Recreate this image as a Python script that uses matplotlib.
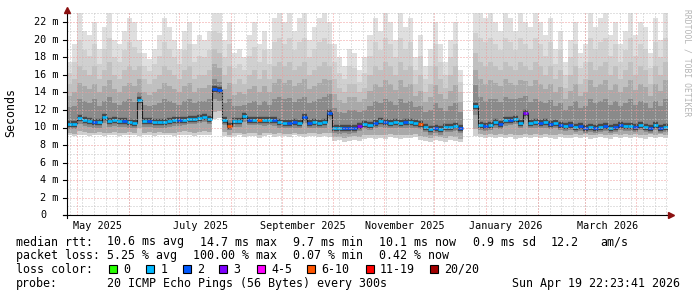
import numpy as np
import matplotlib
matplotlib.use("Agg")
import matplotlib.pyplot as plt
import matplotlib.dates as mdates
import matplotlib.transforms as mtransforms
from matplotlib.lines import Line2D
from matplotlib.patches import Rectangle
from datetime import datetime, timedelta

W, H = 697, 297
T_END = datetime(2026, 4, 19, 22, 23, 41)
T_START = T_END - timedelta(days=360)
STEP_DAYS = 3
nan = np.nan

# --- data: one column every 3 days (values in ms, axis unit "m") ---
med = [10.4, 10.4, 11.1, 10.9, 10.7, 10.6, 10.6, 11.2, 10.7, 10.8,
       10.7, 10.7, 10.6, 10.5, 13.1, 10.7, 10.7, 10.6, 10.6, 10.6,
       10.7, 10.8, 10.8, 10.9, 11.0, 11.0, 11.1, 11.2, 11.0, 14.4,
       14.3, 10.9, 10.2, 10.7, 10.7, 11.3, 10.9, 10.9, 10.9, 10.8,
       10.9, 10.8, 10.6, 10.5, 10.5, 10.6, 10.5, 11.2, 10.5, 10.6,
       10.5, 10.6, 11.6, 10.0, 9.9, 10.0, 9.9, 10.0, 10.2, 10.4,
       10.3, 10.5, 10.7, 10.6, 10.5, 10.6, 10.5, 10.6, 10.6, 10.5,
       10.4, 10.1, 9.8, 10.0, 9.8, 10.1, 10.1, 10.2, 10.0, nan,
       nan, 12.4, 10.3, 10.2, 10.3, 10.6, 10.4, 10.8, 10.9, 11.0,
       10.5, 11.7, 10.5, 10.6, 10.5, 10.6, 10.4, 10.5, 10.3, 10.2,
       10.3, 10.1, 10.2, 10.0, 10.1, 10.0, 10.1, 10.2, 10.0, 10.1,
       10.3, 10.2, 10.2, 10.1, 10.3, 10.1, 10.0, 10.3, 10.0, 10.1]

loss = [1, 1, 1, 1, 1, 2, 1, 1, 1, 1,
        1, 2, 1, 1, 1, 1, 2, 1, 1, 1,
        1, 1, 2, 1, 1, 1, 1, 1, 1, 2,
        2, 1, 7, 1, 1, 1, 2, 1, 7, 1,
        1, 2, 1, 1, 2, 2, 1, 2, 2, 1,
        1, 1, 2, 1, 1, 2, 2, 2, 3, 1,
        1, 2, 1, 2, 1, 1, 1, 2, 1, 1,
        7, 1, 1, 2, 1, 1, 1, 1, 2, 0,
        0, 1, 1, 2, 1, 1, 2, 1, 2, 1,
        1, 3, 1, 1, 2, 1, 2, 1, 2, 1,
        2, 1, 2, 2, 1, 2, 1, 2, 1, 2,
        2, 1, 1, 2, 1, 1, 2, 1, 2, 1]

hi = [17.5, 19.5, 23.0, 21.0, 20.5, 22.0, 19.0, 21.5, 23.0, 20.0,
      19.5, 21.0, 22.5, 22.0, 20.0, 18.5, 17.8, 19.0, 20.5, 22.5,
      21.5, 20.0, 19.0, 21.0, 22.0, 19.5, 20.5, 20.0, 21.0, 23.0,
      23.0, 20.0, 22.0, 18.5, 19.0, 18.0, 20.5, 22.0, 19.5, 21.0,
      19.0, 22.5, 23.0, 22.0, 23.0, 21.0, 22.5, 23.0, 20.0, 21.5,
      22.5, 23.0, 22.0, 19.5, 18.0, 17.0, 19.0, 18.5, 16.5, 18.0,
      20.5, 22.5, 21.0, 23.0, 22.0, 20.0, 23.0, 21.5, 22.5, 18.0,
      20.5, 17.0, 19.0, 22.0, 19.5, 17.5, 20.0, 22.0, 16.5, nan,
      nan, 23.0, 23.0, 22.5, 23.0, 22.0, 21.0, 23.0, 22.5, 21.0,
      23.0, 22.0, 21.5, 23.0, 22.0, 20.5, 22.5, 19.0, 21.0, 17.5,
      20.0, 22.0, 18.5, 19.5, 23.0, 21.5, 22.5, 23.0, 20.5, 22.0,
      19.5, 21.0, 23.0, 20.5, 22.0, 21.5, 18.5, 22.5, 20.0, 23.0]

up_light = [16.2, 17.5, 20.0, 18.8, 18.2, 19.5, 17.2, 19.0, 20.2, 18.0,
            17.5, 18.8, 19.8, 19.2, 18.5, 17.0, 16.4, 17.2, 18.2, 19.8,
            19.0, 18.0, 17.2, 18.8, 19.5, 17.5, 18.2, 18.0, 18.8, 21.0,
            20.8, 18.0, 19.5, 16.8, 17.2, 16.5, 18.2, 19.2, 17.5, 18.8,
            17.2, 19.8, 20.2, 19.5, 20.2, 18.8, 19.8, 20.2, 18.0, 19.0,
            19.8, 20.2, 19.5, 17.5, 16.2, 15.5, 17.0, 16.8, 15.2, 16.2,
            18.2, 19.8, 18.8, 20.2, 19.5, 18.0, 20.2, 19.0, 19.8, 16.5,
            18.2, 15.5, 17.0, 19.5, 17.5, 16.0, 18.0, 19.5, 15.2, nan,
            nan, 20.8, 20.2, 19.8, 20.2, 19.5, 18.8, 20.2, 19.8, 18.8,
            20.2, 19.5, 19.0, 20.2, 19.5, 18.2, 19.8, 17.2, 18.8, 16.0,
            18.0, 19.5, 16.8, 17.5, 20.2, 19.0, 19.8, 20.2, 18.2, 19.5,
            17.5, 18.8, 20.2, 18.2, 19.5, 19.0, 16.8, 19.8, 18.0, 20.2]

up_mid = [15.0, 15.5, 17.0, 16.5, 16.0, 17.0, 15.5, 16.5, 17.5, 16.0,
          15.5, 16.5, 17.0, 16.5, 17.0, 15.5, 15.0, 15.5, 16.0, 17.0,
          16.5, 16.0, 15.5, 16.5, 17.0, 15.5, 16.0, 16.0, 16.5, 19.0,
          18.5, 16.0, 17.0, 15.0, 15.5, 15.0, 16.0, 16.5, 15.5, 16.5,
          15.5, 17.0, 17.5, 17.0, 17.5, 16.5, 17.0, 17.5, 16.0, 16.5,
          17.0, 17.5, 17.0, 15.5, 14.5, 14.0, 15.0, 15.0, 14.0, 14.5,
          16.0, 17.0, 16.5, 17.5, 17.0, 16.0, 17.5, 16.5, 17.0, 15.0,
          16.0, 14.0, 15.0, 17.0, 15.5, 14.5, 16.0, 17.0, 14.0, nan,
          nan, 18.5, 17.5, 17.0, 17.5, 17.0, 16.5, 17.5, 17.0, 16.5,
          17.5, 17.0, 16.5, 17.5, 17.0, 16.0, 17.0, 15.5, 16.5, 14.5,
          16.0, 17.0, 15.0, 15.5, 17.5, 16.5, 17.0, 17.5, 16.0, 17.0,
          15.5, 16.5, 17.5, 16.0, 17.0, 16.5, 15.0, 17.0, 16.0, 17.5]

up_dm = [13.6, 14.0, 15.1, 14.7, 14.4, 15.0, 14.0, 14.7, 15.4, 14.4,
         14.0, 14.7, 15.1, 14.7, 15.5, 14.0, 13.7, 14.0, 14.4, 15.1,
         14.7, 14.4, 14.0, 14.7, 15.1, 14.1, 14.5, 14.5, 14.8, 17.2,
         16.8, 14.4, 15.1, 13.7, 14.0, 13.8, 14.4, 14.7, 14.0, 14.7,
         14.0, 15.1, 15.5, 15.1, 15.4, 14.7, 15.1, 15.5, 14.4, 14.7,
         15.1, 15.5, 15.4, 13.8, 13.1, 12.8, 13.5, 13.5, 12.9, 13.2,
         14.2, 15.0, 14.6, 15.4, 15.0, 14.3, 15.4, 14.6, 15.0, 13.6,
         14.2, 12.9, 13.5, 14.9, 13.8, 13.2, 14.2, 14.9, 12.9, nan,
         nan, 16.6, 15.5, 15.0, 15.4, 15.1, 14.7, 15.5, 15.1, 14.8,
         15.4, 15.3, 14.7, 15.4, 15.0, 14.4, 15.0, 14.0, 14.6, 13.2,
         14.2, 15.0, 13.6, 14.0, 15.4, 14.6, 15.0, 15.4, 14.3, 15.0,
         14.0, 14.6, 15.4, 14.3, 15.0, 14.6, 13.6, 15.0, 14.2, 15.4]

up_dark = [12.3, 12.5, 13.3, 13.0, 12.8, 13.2, 12.5, 13.0, 13.5, 12.8,
           12.6, 13.0, 13.2, 12.9, 14.0, 12.6, 12.4, 12.6, 12.8, 13.2,
           13.0, 12.8, 12.6, 13.0, 13.3, 12.8, 13.0, 13.0, 13.2, 15.5,
           15.2, 12.8, 13.2, 12.4, 12.5, 12.6, 12.8, 13.0, 12.6, 13.0,
           12.6, 13.2, 13.5, 13.2, 13.4, 12.9, 13.2, 13.5, 12.8, 13.0,
           13.2, 13.5, 13.8, 12.2, 11.8, 11.6, 12.0, 12.0, 11.8, 12.0,
           12.5, 13.0, 12.8, 13.3, 13.0, 12.6, 13.3, 12.8, 13.0, 12.3,
           12.5, 11.8, 12.0, 12.8, 12.2, 11.9, 12.4, 12.8, 11.8, nan,
           nan, 14.8, 13.5, 13.0, 13.3, 13.2, 12.9, 13.5, 13.3, 13.2,
           13.4, 13.6, 12.9, 13.3, 13.0, 12.8, 13.1, 12.5, 12.8, 12.0,
           12.5, 13.0, 12.2, 12.4, 13.2, 12.8, 13.0, 13.2, 12.6, 13.0,
           12.4, 12.8, 13.3, 12.6, 13.0, 12.8, 12.2, 13.0, 12.5, 13.2]

lo = [9.1, 9.0, 9.2, 9.1, 9.0, 9.1, 9.2, 9.0, 9.1, 9.1,
      9.0, 9.1, 9.2, 9.1, 9.0, 9.1, 9.1, 9.0, 9.2, 9.1,
      9.1, 9.0, 9.1, 9.2, 9.1, 9.0, 9.1, 9.2, 9.1, 11.0,
      11.1, 9.0, 8.9, 9.0, 9.1, 8.9, 9.0, 9.0, 8.8, 9.0,
      9.1, 8.9, 9.0, 9.0, 8.9, 9.1, 9.0, 8.9, 9.0, 9.0,
      8.9, 9.0, 8.9, 8.5, 8.6, 8.4, 8.5, 8.6, 8.5, 8.7,
      8.8, 8.7, 8.8, 8.7, 8.9, 8.8, 8.7, 8.8, 8.8, 8.9,
      8.6, 8.5, 8.4, 8.6, 8.5, 8.4, 8.6, 8.5, 8.3, nan,
      nan, 9.0, 8.9, 8.8, 8.9, 8.8, 8.9, 8.8, 8.9, 8.7,
      8.8, 8.9, 8.8, 8.9, 8.8, 8.9, 8.8, 8.7, 8.9, 8.8,
      8.8, 8.9, 8.8, 8.9, 8.7, 8.8, 8.9, 8.8, 8.7, 8.9,
      8.8, 8.9, 8.8, 8.9, 8.8, 8.7, 8.9, 8.8, 8.9, 8.8]

lo_mid = [9.4, 9.3, 9.6, 9.5, 9.4, 9.4, 9.5, 9.4, 9.4, 9.5,
          9.4, 9.4, 9.5, 9.4, 10.0, 9.4, 9.5, 9.4, 9.5, 9.4,
          9.4, 9.4, 9.5, 9.6, 9.5, 9.4, 9.5, 9.6, 9.5, 11.8,
          11.9, 9.5, 9.2, 9.4, 9.4, 9.3, 9.4, 9.4, 9.2, 9.4,
          9.4, 9.3, 9.4, 9.3, 9.3, 9.4, 9.3, 9.3, 9.4, 9.4,
          9.3, 9.4, 9.4, 8.9, 8.9, 8.8, 8.9, 9.0, 8.9, 9.1,
          9.2, 9.1, 9.2, 9.1, 9.3, 9.2, 9.1, 9.2, 9.2, 9.3,
          9.0, 8.9, 8.8, 9.0, 8.9, 8.8, 9.0, 8.9, 8.7, nan,
          nan, 9.8, 9.3, 9.2, 9.3, 9.2, 9.3, 9.2, 9.3, 9.2,
          9.2, 9.3, 9.2, 9.3, 9.2, 9.3, 9.2, 9.1, 9.3, 9.2,
          9.2, 9.3, 9.2, 9.3, 9.1, 9.2, 9.3, 9.2, 9.1, 9.3,
          9.2, 9.3, 9.2, 9.3, 9.2, 9.1, 9.3, 9.2, 9.3, 9.2]

lo_dark = [9.8, 9.8, 10.4, 10.2, 10.1, 10.0, 10.0, 10.5, 10.1, 10.2,
           10.1, 10.1, 10.0, 9.9, 12.0, 10.1, 10.1, 10.0, 10.0, 10.0,
           10.1, 10.2, 10.2, 10.3, 10.4, 10.4, 10.5, 10.6, 10.4, 13.2,
           13.0, 10.3, 9.7, 10.1, 10.1, 10.6, 10.3, 10.3, 10.3, 10.2,
           10.3, 10.2, 10.0, 9.9, 9.9, 10.0, 9.9, 10.5, 9.9, 10.0,
           9.9, 10.0, 10.8, 9.4, 9.3, 9.4, 9.3, 9.4, 9.6, 9.8,
           9.7, 9.9, 10.1, 10.0, 9.9, 10.0, 9.9, 10.0, 10.0, 9.9,
           9.8, 9.5, 9.2, 9.4, 9.2, 9.5, 9.5, 9.6, 9.4, nan,
           nan, 11.4, 9.7, 9.6, 9.7, 10.0, 9.8, 10.2, 10.3, 10.4,
           9.9, 10.8, 9.9, 10.0, 9.9, 10.0, 9.8, 9.9, 9.7, 9.6,
           9.7, 9.5, 9.6, 9.4, 9.5, 9.4, 9.5, 9.6, 9.4, 9.5,
           9.7, 9.6, 9.6, 9.5, 9.7, 9.5, 9.4, 9.7, 9.4, 9.5]

loss_colors = {0: '#26ff00', 1: '#00b8ff', 2: '#0059ff', 3: '#7e00ff',
               5: '#ff00ff', 10: '#ff5500', 19: '#ff0000', 20: '#a10000'}
loss_labels = ['0', '1', '2', '3', '4-5', '6-10', '11-19', '20/20']

y_labels = ['0', '2 m', '4 m', '6 m', '8 m', '10 m', '12 m', '14 m',
            '16 m', '18 m', '20 m', '22 m']
x_labels = ['May 2025', 'July 2025', 'September 2025', 'November 2025',
            'January 2026', 'March 2026']
x_label_dates = [datetime(2025, 5, 13), datetime(2025, 7, 14), datetime(2025, 9, 13),
                 datetime(2025, 11, 13), datetime(2026, 1, 13), datetime(2026, 3, 15)]

stats_rtt = ['median rtt:', '10.6 ms avg', '14.7 ms max', '9.7 ms min',
             '10.1 ms now', '0.9 ms sd', '12.2', 'am/s']
stats_loss = ['packet loss:', '5.25 % avg', '100.00 % max', '0.07 % min', '0.42 % now']
probe_text = '20 ICMP Echo Pings (56 Bytes) every 300s'
stamp_text = 'Sun Apr 19 22:23:41 2026'


def loss_color(n):
    for k in sorted(loss_colors):
        if n <= k:
            return loss_colors[k]
    return loss_colors[20]


def px(x, y):
    return x / W, 1 - y / H


plt.rcParams['font.family'] = 'DejaVu Sans Mono'

fig = plt.figure(figsize=(W / 100, H / 100), dpi=100)
fig.patch.set_facecolor('white')
y0_px, ytop_px = 215.2, 13.0
ax = fig.add_axes([67 / W, 1 - y0_px / H, (668 - 67) / W, (y0_px - ytop_px) / H])
ymax = (y0_px - ytop_px) / 8.77
ax.set_xlim(mdates.date2num(T_START), mdates.date2num(T_END))
ax.set_ylim(0, ymax)
for s in ax.spines.values():
    s.set_visible(False)
ax.set_xticks([])
ax.set_yticks([])

n = len(med)
edges = mdates.date2num([T_START + timedelta(days=STEP_DAYS * i) for i in range(n + 1)])
xl = edges[:-1]
med_a = np.array(med)

# smoke: nested bands, outer ones light, inner ones dark
bands = [(lo, hi, '#dfdfdf'), (lo, up_light, '#d0d0d0'), (lo_mid, up_mid, '#c0c0c0'),
         (lo_mid, up_dm, '#a9a9a9'), (lo_dark, up_dark, '#8a8a8a')]
for k, (b, t, c) in enumerate(bands):
    b, t = np.array(b), np.array(t)
    ax.bar(xl, t - b, bottom=b, width=STEP_DAYS, align='edge', color=c, lw=0, zorder=1 + 0.1 * k)
ax.hlines(med_a, xl, edges[1:], colors='#484848', lw=4.6, zorder=1.6)
ax.stairs(med_a, edges, color='#1a1a1a', lw=0.8, baseline=None, zorder=1.7)
ax.hlines(med_a, xl, edges[1:], colors=[loss_color(v) for v in loss], lw=1.9, zorder=1.8)

# grid (drawn over the data like rrdtool)
dot = (0, (1, 2))
for v in range(1, int(ymax) + 1):
    if v % 2:
        ax.axhline(v, color='#c4c4c4', lw=0.72, ls=dot, zorder=3)
    else:
        ax.axhline(v, color='#f09a9a', lw=0.72, ls=dot, zorder=3.1)
d = datetime(2025, 4, 27)
while d < T_END:
    ax.axvline(mdates.date2num(d), color='#c4c4c4', lw=0.72, ls=dot, zorder=3)
    d += timedelta(days=7)
for yy, mm in [(2025, m) for m in range(5, 13)] + [(2026, m) for m in range(1, 5)]:
    ax.axvline(mdates.date2num(datetime(yy, mm, 1)), color='#f09a9a', lw=0.72, ls=dot, zorder=3.1)

# axis lines and arrows
fig.add_artist(Line2D([67 / W, 67 / W], [1 - 218 / H, 1 - 12 / H], color='black', lw=0.8))
fig.add_artist(Line2D([63 / W, 670 / W], [1 - y0_px / H, 1 - y0_px / H], color='black', lw=0.8))
fig.add_artist(Line2D([67 / W], [1 - 10 / H], marker='^', ms=4.5, color='#8b1010', lw=0))
fig.add_artist(Line2D([671 / W], [1 - y0_px / H], marker='>', ms=4.5, color='#8b1010', lw=0))

# y tick marks + labels
tr_y = mtransforms.blended_transform_factory(fig.transFigure, ax.transData)
for i, lab in enumerate(y_labels):
    v = 2 * i
    ax.plot([63 / W, 67 / W], [v, v], transform=tr_y, color='black', lw=0.8, clip_on=False)
    xr = 58.5 if 'm' in lab else 46.5
    ax.text(xr / W, v, lab, transform=tr_y, ha='right', va='center', fontsize=7.3, color='black')

# x labels
tr_x = mtransforms.blended_transform_factory(ax.transData, fig.transFigure)
for dt, lab in zip(x_label_dates, x_labels):
    ax.text(mdates.date2num(dt), 1 - 229 / H, lab, transform=tr_x, ha='center', va='baseline',
            fontsize=7.3, color='black')

fig.text(*px(11, 113), 'Seconds', rotation=90, ha='center', va='center', fontsize=8.4)
fig.text(*px(687.5, 63), 'RRDTOOL / TOBI OETIKER', rotation=270, ha='center', va='center',
         fontsize=5.8, color='#b4b4b4')

# legend block
fs = 8.4
for xx, s in zip([16, 107.3, 200, 292.7, 379.3, 473.3, 551, 600], stats_rtt):
    fig.text(*px(xx, 245.5), s, fontsize=fs, va='baseline', ha='left')
for xx, s in zip([16, 107.3, 193.3, 292.7, 379.3], stats_loss):
    fig.text(*px(xx, 259), s, fontsize=fs, va='baseline', ha='left')
fig.text(*px(16, 273), 'loss color:', fontsize=fs, va='baseline', ha='left')
sq_x = [109, 146, 182.7, 219.3, 256.7, 307.3, 365.7, 430.3]
for xx, lab, col in zip(sq_x, loss_labels, [loss_colors[k] for k in sorted(loss_colors)]):
    fig.add_artist(Rectangle(px(xx, 273), 8 / W, 8 / H, facecolor=col, edgecolor='black', lw=0.8))
    fig.text(*px(xx + 14.3, 273), lab, fontsize=fs, va='baseline', ha='left')
fig.text(*px(16, 287), 'probe:', fontsize=fs, va='baseline', ha='left')
fig.text(*px(107.3, 287), probe_text, fontsize=fs, va='baseline', ha='left')
fig.text(*px(680, 287), stamp_text, fontsize=fs, va='baseline', ha='right')

fig.savefig('out.png', dpi=100)
